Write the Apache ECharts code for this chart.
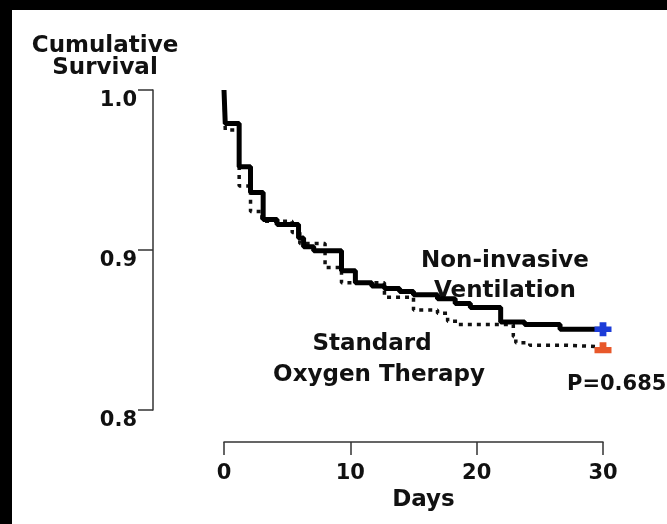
<!DOCTYPE html>
<html>
<head>
<meta charset="utf-8">
<script src="https://cdn.jsdelivr.net/npm/echarts@6/dist/echarts.min.js"></script>
<style>
  html, body { margin: 0; padding: 0; background: #fff; }
  #chart { width: 667px; height: 524px; }
</style>
</head>
<body>
<div id="chart"></div>
<script>
// Kaplan–Meier steps: day of each event and survival after it
const nivDays = [0, 0.1, 1.2, 2.1, 3.1, 4.2, 5.9, 6.3, 7.1, 9.3, 10.4, 11.7, 12.7, 13.9, 15.0, 16.9, 18.3, 19.5, 21.9, 23.8, 26.6, 30];
const nivSurvival = [1.0, 0.979, 0.952, 0.936, 0.919, 0.916, 0.9075, 0.902, 0.8995, 0.887, 0.8795, 0.8775, 0.876, 0.874, 0.872, 0.8695, 0.8665, 0.864, 0.855, 0.8535, 0.8505, 0.8505];

const sotDays = [0, 0.1, 1.2, 2.1, 3.0, 5.4, 6.0, 8.0, 9.3, 12.7, 15.0, 16.9, 17.7, 18.5, 22.9, 23.1, 24.2, 27.0, 30];
const sotSurvival = [1.0, 0.975, 0.94, 0.924, 0.918, 0.911, 0.904, 0.889, 0.8795, 0.8705, 0.8625, 0.8605, 0.8555, 0.8535, 0.846, 0.842, 0.8405, 0.8395, 0.8395];

const yTicks = [0.8, 0.9, 1.0];
const xTicks = [0, 10, 20, 30];

const FONT = '"DejaVu Sans", sans-serif';
const pair = (xs, ys) => xs.map((x, i) => [x, ys[i]]);
const last = (xs, ys) => [[xs[xs.length - 1], ys[ys.length - 1]]];

const chart = echarts.init(document.getElementById('chart'), null, { renderer: 'canvas' });

chart.setOption({
  backgroundColor: '#ffffff',
  animation: false,
  grid: { left: 224, right: 64, top: 90, bottom: 114 },
  xAxis: {
    type: 'value',
    min: xTicks[0], max: xTicks[xTicks.length - 1], interval: 10,
    offset: 32,
    name: 'Days',
    nameLocation: 'middle',
    nameGap: 42,
    nameTextStyle: { fontFamily: FONT, fontWeight: 'bold', fontSize: 23, color: '#111', padding: [0, 0, 0, 20] },
    axisLine: { show: true, onZero: false, lineStyle: { color: '#333', width: 1.5 } },
    axisTick: { show: true, length: 13, lineStyle: { color: '#333', width: 1.5 } },
    axisLabel: { margin: 21, fontFamily: FONT, fontWeight: 'bold', fontSize: 21, color: '#111' },
    splitLine: { show: false }
  },
  yAxis: {
    type: 'value',
    min: yTicks[0], max: yTicks[yTicks.length - 1], interval: 0.1,
    offset: 71,
    axisLine: { show: true, onZero: false, lineStyle: { color: '#333', width: 1.5 } },
    axisTick: { show: true, length: 15, lineStyle: { color: '#333', width: 1.5 } },
    axisLabel: {
      margin: 16, fontFamily: FONT, fontWeight: 'bold', fontSize: 21, color: '#111',
      verticalAlign: 'top', formatter: v => v.toFixed(1)
    },
    splitLine: { show: false }
  },
  series: [
    {
      name: 'Standard Oxygen Therapy',
      type: 'line',
      step: 'end',
      showSymbol: false,
      data: pair(sotDays, sotSurvival),
      lineStyle: { color: '#111', width: 3.5, type: [4, 5] },
      z: 2
    },
    {
      name: 'Non-invasive Ventilation',
      type: 'line',
      step: 'end',
      showSymbol: false,
      data: pair(nivDays, nivSurvival),
      lineStyle: { color: '#000', width: 5 },
      z: 3
    },
    {
      type: 'scatter',
      data: last(sotDays, sotSurvival),
      symbol: 'path://M3,0H7V3H10V7H0V3H3Z',
      symbolSize: [17, 11],
      symbolOffset: [0, 1],
      itemStyle: { color: '#e8582a', opacity: 1 },
      z: 4
    },
    {
      type: 'scatter',
      data: last(nivDays, nivSurvival),
      symbol: 'path://M3,0H7V3H10V7H7V10H3V7H0V3H3Z',
      symbolSize: [17, 14],
      itemStyle: { color: '#1c3cd8', opacity: 1 },
      z: 4
    }
  ],
  graphic: [
    { type: 'rect', left: 0, top: 0, shape: { width: 12, height: 524 }, style: { fill: '#000' } },
    { type: 'rect', left: 0, top: 0, shape: { width: 667, height: 10 }, style: { fill: '#000' } },
    { type: 'text', x: 105, y: 46, style: { text: 'Cumulative', font: 'bold 23px ' + FONT, fill: '#111', align: 'center', verticalAlign: 'middle' } },
    { type: 'text', x: 105, y: 68, style: { text: 'Survival', font: 'bold 23px ' + FONT, fill: '#111', align: 'center', verticalAlign: 'middle' } },
    { type: 'text', x: 505, y: 261, style: { text: 'Non-invasive', font: 'bold 23px ' + FONT, fill: '#111', align: 'center', verticalAlign: 'middle' } },
    { type: 'text', x: 505, y: 291, style: { text: 'Ventilation', font: 'bold 23px ' + FONT, fill: '#111', align: 'center', verticalAlign: 'middle' } },
    { type: 'text', x: 372, y: 344, style: { text: 'Standard', font: 'bold 23px ' + FONT, fill: '#111', align: 'center', verticalAlign: 'middle' } },
    { type: 'text', x: 379, y: 375, style: { text: 'Oxygen Therapy', font: 'bold 23px ' + FONT, fill: '#111', align: 'center', verticalAlign: 'middle' } },
    { type: 'text', x: 567, y: 385, style: { text: 'P=0.685', font: 'bold 21px ' + FONT, fill: '#111', align: 'left', verticalAlign: 'middle' } }
  ]
});
</script>
</body>
</html>
